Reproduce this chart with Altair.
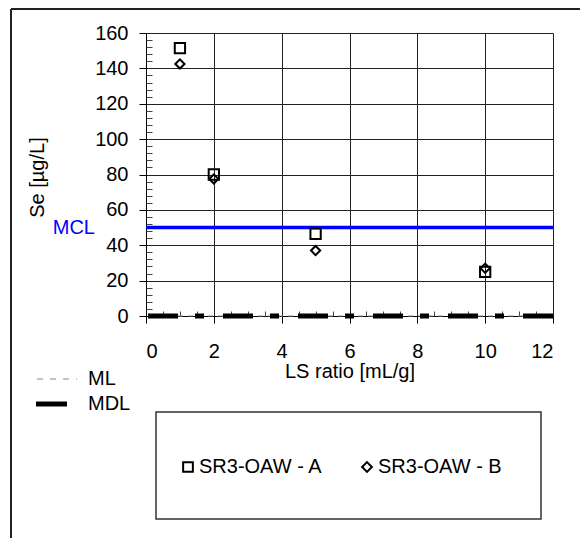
import altair as alt
import pandas as pd

# ---- data ----
ls_ratio = [1, 2, 5, 10]
se_a = [151.5, 80, 46.5, 25]
se_b = [142.5, 77.5, 37, 27]
series_names = ["SR3-OAW - A", "SR3-OAW - B"]
mcl_value = 50
ml_value = 0
mdl_value = 0

x_ticks = [0, 2, 4, 6, 8, 10, 12]
y_ticks = [0, 20, 40, 60, 80, 100, 120, 140, 160]
x_minor = [0.5, 1, 1.5, 2.5, 3, 3.5, 4.5, 5, 5.5, 6.5, 7, 7.5, 8.5, 9, 9.5, 10.5, 11, 11.5]
y_minor = [v for v in range(0, 161, 4) if v % 20 != 0]

df = pd.DataFrame({
    "ls": ls_ratio + ls_ratio,
    "se": se_a + se_b,
    "series": [series_names[0]] * len(ls_ratio) + [series_names[1]] * len(ls_ratio),
})

W, H = 407, 283
FONT = "Liberation Sans"
FS = 20
one = alt.Data(values=[{"k": 0}])

xscale = alt.Scale(domain=[0, 12], nice=False, zero=False)
yscale = alt.Scale(domain=[0, 160], nice=False)

main_x_axis = alt.Axis(orient="bottom", values=x_ticks, grid=True, gridColor="#222", gridWidth=1,
                       tickSize=7, tickColor="black", labelPadding=18, format="d",
                       domainColor="black", title="LS ratio [mL/g]",
                       titleX=W / 2, titleY=61, titleAlign="center", titleBaseline="alphabetic")
main_y_axis = alt.Axis(orient="left", values=y_ticks, grid=True, gridColor="#222", gridWidth=1,
                       tickSize=7, tickColor="black", labelPadding=11, format="d",
                       domainColor="black", title="Se [µg/L]", titleAngle=-90,
                       titleX=-103, titleY=144, titleAlign="center", titleBaseline="alphabetic")

shape_enc = alt.Shape(
    "series:N", scale=alt.Scale(domain=series_names, range=["square", "diamond"]),
    legend=alt.Legend(title=None, orient="none", legendX=32, legendY=424,
                      direction="horizontal", labelFontSize=FS, labelFont=FONT,
                      labelColor="black", symbolSize=95, symbolStrokeWidth=2,
                      symbolStrokeColor="black", symbolFillColor="white",
                      columnPadding=34, labelOffset=1, padding=0))

main_axes = alt.Chart(df).mark_point(opacity=0).encode(
    x=alt.X("ls:Q", scale=xscale, axis=main_x_axis),
    y=alt.Y("se:Q", scale=yscale, axis=main_y_axis),
)

minor = alt.Chart(df).mark_point(opacity=0).encode(
    x=alt.X("ls:Q", scale=xscale, axis=alt.Axis(values=x_minor, orient="bottom", offset=-5, tickSize=5,
                                                 labels=False, domain=False, grid=False, title=None,
                                                 tickColor="#444")),
    y=alt.Y("se:Q", scale=yscale, axis=alt.Axis(values=y_minor, orient="left", offset=-6, tickSize=6,
                                                 labels=False, domain=False, grid=False, title=None,
                                                 tickColor="#444")),
)

points_a = alt.Chart(df).transform_filter(
    alt.datum.series == series_names[0]
).mark_point(filled=False, strokeWidth=2, color="black", opacity=1, size=106).encode(
    x=alt.X("ls:Q", scale=xscale, axis=None),
    y=alt.Y("se:Q", scale=yscale, axis=None),
    shape=shape_enc,
)
points_b = alt.Chart(df).transform_filter(
    alt.datum.series == series_names[1]
).mark_point(filled=False, strokeWidth=2, color="black", opacity=1, size=85).encode(
    x=alt.X("ls:Q", scale=xscale, axis=None),
    y=alt.Y("se:Q", scale=yscale, axis=None),
    shape=shape_enc,
)

ml_rule = alt.Chart(one).mark_rule(color="#888", strokeWidth=1, strokeDash=[5, 5]).encode(
    y=alt.YDatum(ml_value, scale=yscale, axis=None))
mdl_rule = alt.Chart(one).mark_rule(color="black", strokeWidth=5, strokeDash=[30, 19, 9, 17],
                                    strokeCap="butt").encode(
    y=alt.YDatum(mdl_value, scale=yscale, axis=None))
mcl_rule = alt.Chart(one).mark_rule(color="#0000FF", strokeWidth=3.5).encode(
    y=alt.YDatum(mcl_value, scale=yscale, axis=None))
mcl_text = alt.Chart(one).mark_text(text="MCL", color="#0000FF", font=FONT, fontSize=FS,
                                    align="right", baseline="middle").encode(
    x=alt.value(-51), y=alt.YDatum(mcl_value, scale=yscale, axis=None))

# left legend (ML / MDL)
ml_leg = alt.Chart(one).mark_rule(color="#888", strokeWidth=1, strokeDash=[6, 7]).encode(
    x=alt.value(37 - 146), x2=alt.value(77 - 146), y=alt.value(379 - 33))
ml_txt = alt.Chart(one).mark_text(text="ML", font=FONT, fontSize=FS, align="left",
                                  baseline="middle", color="black").encode(
    x=alt.value(88 - 146), y=alt.value(379 - 33))
mdl_leg = alt.Chart(one).mark_rule(color="black", strokeWidth=5, strokeCap="butt").encode(
    x=alt.value(36 - 146), x2=alt.value(67 - 146), y=alt.value(404 - 33))
mdl_txt = alt.Chart(one).mark_text(text="MDL", font=FONT, fontSize=FS, align="left",
                                   baseline="middle", color="black").encode(
    x=alt.value(88 - 146), y=alt.value(404 - 33))

legend_box = alt.Chart(one).mark_rect(fillOpacity=0, stroke="#333", strokeWidth=1.5).encode(
    x=alt.value(156 - 146), x2=alt.value(541 - 146), y=alt.value(412 - 33), y2=alt.value(519 - 33))

frame_left = alt.Chart(one).mark_rule(color="#222", strokeWidth=2).encode(
    x=alt.value(11 - 146), y=alt.value(9 - 33), y2=alt.value(H + 230))
frame_top = alt.Chart(one).mark_rule(color="#222", strokeWidth=2).encode(
    x=alt.value(11 - 146), x2=alt.value(W + 40), y=alt.value(9 - 33))

chart = alt.layer(
    main_axes, minor, ml_rule, mdl_rule, mcl_rule, mcl_text, points_a, points_b,
    ml_leg, ml_txt, mdl_leg, mdl_txt, legend_box, frame_left, frame_top,
).resolve_axis(x="independent", y="independent").properties(
    width=W, height=H,
    autosize=alt.AutoSizeParams(type="none"),
    padding={"left": 138, "top": 25, "right": 27, "bottom": 222},
).configure_axis(
    labelFont=FONT, labelFontSize=FS, labelColor="black",
    titleFont=FONT, titleFontSize=FS, titleColor="black", titleFontWeight="normal",
).configure_view(stroke=None)

chart.save("out.html", embed_options={"renderer": "svg", "actions": False})
